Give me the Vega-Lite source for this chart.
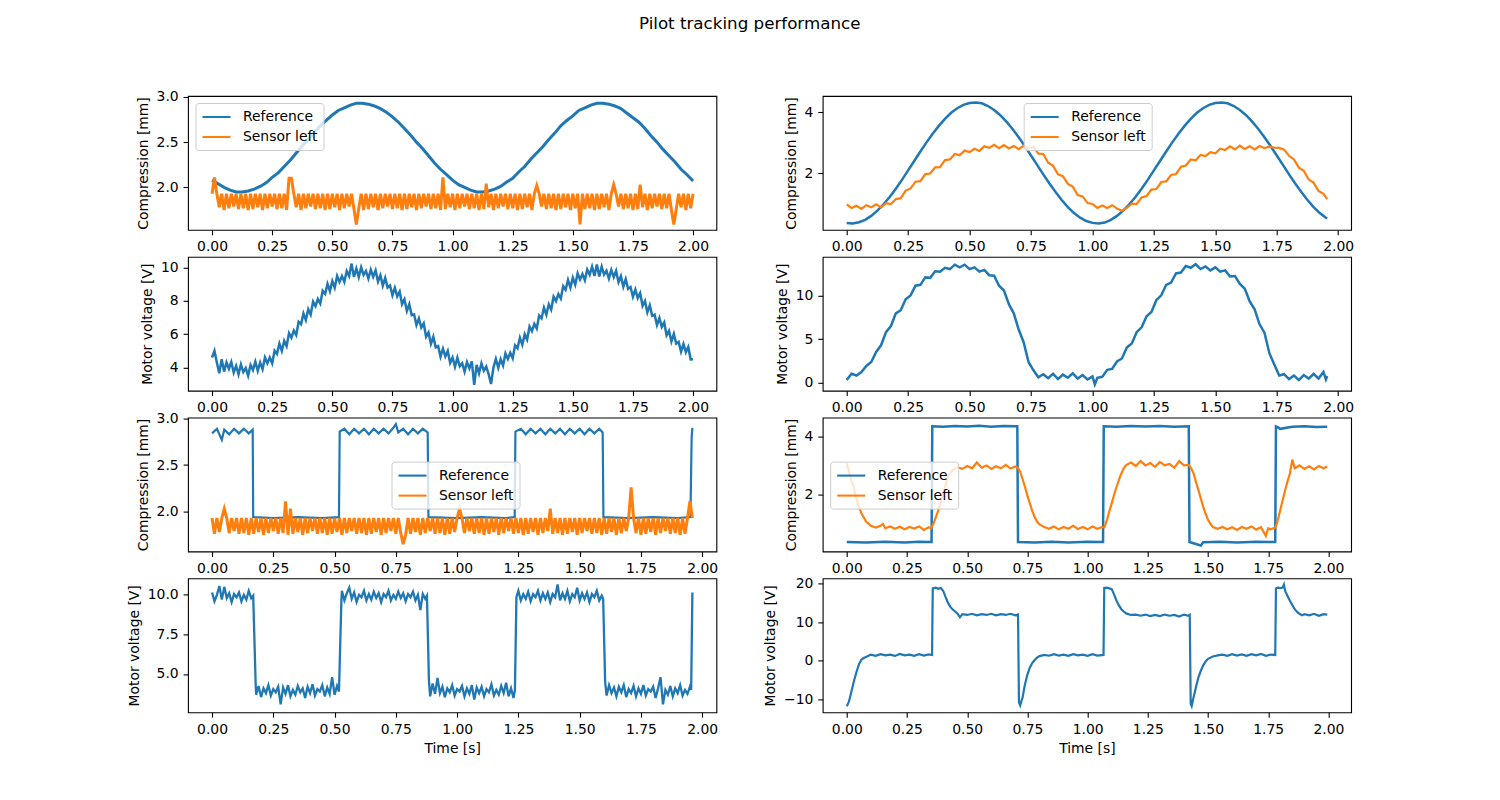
{
  "$schema": "https://vega.github.io/schema/vega-lite/v6.json",
  "title": {"text": "Pilot tracking performance", "anchor": "middle", "offset": 57, "dx": 9},
  "padding": {"left": 127, "top": 15, "right": 10, "bottom": 10},
  "columns": 2,
  "spacing": {"row": 26.8, "column": 105.7},
  "bounds": "flush",
  "resolve": {"scale": {"x": "independent", "y": "independent", "color": "independent"}},
  "concat": [
    {
      "width": 528.4, "height": 133.9,
      "encoding": {
        "x": {"field": "t", "type": "quantitative", "scale": {"domain": [-0.1, 2.097], "nice": false, "zero": false}, "axis": {"values": [0, 0.25, 0.5, 0.75, 1, 1.25, 1.5, 1.75, 2], "format": ".2f", "title": null}},
        "y": {"field": "v", "type": "quantitative", "scale": {"domain": [1.53, 3.01], "nice": false, "zero": false}, "axis": {"values": [2, 2.5, 3], "format": ".1f", "title": "Compression [mm]"}}
      },
      "layer": [
        {
          "data": {"values": [
            {"t":0,"v":2.08},{"t":0.025,"v":2.04},{"t":0.05,"v":2.0},{"t":0.075,"v":1.97},{"t":0.1,"v":1.95},{"t":0.125,"v":1.95},{"t":0.15,"v":1.96},{"t":0.175,"v":1.98},{"t":0.2,"v":2.01},{"t":0.225,"v":2.05},{"t":0.25,"v":2.11},{"t":0.275,"v":2.16},{"t":0.3,"v":2.23},{"t":0.325,"v":2.3},{"t":0.35,"v":2.38},{"t":0.375,"v":2.46},{"t":0.4,"v":2.53},{"t":0.425,"v":2.61},{"t":0.45,"v":2.68},{"t":0.475,"v":2.74},{"t":0.5,"v":2.8},{"t":0.525,"v":2.85},{"t":0.55,"v":2.88},{"t":0.575,"v":2.91},{"t":0.6,"v":2.93},{"t":0.625,"v":2.93},{"t":0.65,"v":2.92},{"t":0.675,"v":2.9},{"t":0.7,"v":2.87},{"t":0.725,"v":2.83},{"t":0.75,"v":2.78},{"t":0.775,"v":2.72},{"t":0.8,"v":2.65},{"t":0.825,"v":2.58},{"t":0.85,"v":2.5},{"t":0.875,"v":2.43},{"t":0.9,"v":2.35},{"t":0.925,"v":2.27},{"t":0.95,"v":2.2},{"t":0.975,"v":2.14},{"t":1.0,"v":2.08},
            {"t":1.025,"v":2.03},{"t":1.05,"v":2.0},{"t":1.075,"v":1.97},{"t":1.1,"v":1.95},{"t":1.125,"v":1.95},{"t":1.15,"v":1.96},{"t":1.175,"v":1.98},{"t":1.2,"v":2.01},{"t":1.225,"v":2.06},{"t":1.25,"v":2.1},{"t":1.275,"v":2.17},{"t":1.3,"v":2.23},{"t":1.325,"v":2.31},{"t":1.35,"v":2.38},{"t":1.375,"v":2.45},{"t":1.4,"v":2.53},{"t":1.425,"v":2.6},{"t":1.45,"v":2.68},{"t":1.475,"v":2.74},{"t":1.5,"v":2.79},{"t":1.525,"v":2.85},{"t":1.55,"v":2.88},{"t":1.575,"v":2.91},{"t":1.6,"v":2.93},{"t":1.625,"v":2.93},{"t":1.65,"v":2.92},{"t":1.675,"v":2.9},{"t":1.7,"v":2.87},{"t":1.725,"v":2.82},{"t":1.75,"v":2.77},{"t":1.775,"v":2.72},{"t":1.8,"v":2.65},{"t":1.825,"v":2.57},{"t":1.85,"v":2.5},{"t":1.875,"v":2.42},{"t":1.9,"v":2.35},{"t":1.925,"v":2.28},{"t":1.95,"v":2.2},{"t":1.975,"v":2.14},{"t":2.0,"v":2.07}
          ]},
          "mark": {"type": "line", "strokeWidth": 3, "clip": true},
          "encoding": {"color": {"datum": "Reference", "type": "nominal", "scale": {"domain": ["Reference", "Sensor left"], "range": ["#1f77b4", "#ff7f0e"]}, "legend": {"orient": "none", "legendX": 7.5, "legendY": 7, "title": null}}}
        },
        {
          "data": {"values": [
            {"t":0,"v":1.93},{"t":0.01,"v":2.11},{"t":0.02,"v":1.93},{"t":0.03,"v":1.78},{"t":0.04,"v":1.93},{"t":0.05,"v":1.75},{"t":0.06,"v":1.93},{"t":0.07,"v":1.77},{"t":0.08,"v":1.93},{"t":0.09,"v":1.79},
            {"t":0.1,"v":1.93},{"t":0.11,"v":1.76},{"t":0.12,"v":1.93},{"t":0.13,"v":1.77},{"t":0.14,"v":1.93},{"t":0.15,"v":1.75},{"t":0.16,"v":1.93},{"t":0.17,"v":1.76},{"t":0.18,"v":1.93},{"t":0.19,"v":1.78},
            {"t":0.2,"v":1.93},{"t":0.21,"v":1.75},{"t":0.22,"v":1.93},{"t":0.23,"v":1.77},{"t":0.24,"v":1.93},{"t":0.25,"v":1.79},{"t":0.26,"v":1.93},{"t":0.27,"v":1.76},{"t":0.28,"v":1.93},{"t":0.29,"v":1.77},
            {"t":0.3,"v":1.93},{"t":0.31,"v":1.75},{"t":0.32,"v":2.1},{"t":0.33,"v":2.1},{"t":0.34,"v":1.93},{"t":0.35,"v":1.78},{"t":0.36,"v":1.93},{"t":0.37,"v":1.75},{"t":0.38,"v":1.93},{"t":0.39,"v":1.77},
            {"t":0.4,"v":1.93},{"t":0.41,"v":1.79},{"t":0.42,"v":1.93},{"t":0.43,"v":1.76},{"t":0.44,"v":1.93},{"t":0.45,"v":1.77},{"t":0.46,"v":1.93},{"t":0.47,"v":1.75},{"t":0.48,"v":1.93},{"t":0.49,"v":1.76},
            {"t":0.5,"v":1.93},{"t":0.51,"v":1.78},{"t":0.52,"v":1.93},{"t":0.53,"v":1.75},{"t":0.54,"v":1.93},{"t":0.55,"v":1.77},{"t":0.56,"v":1.93},{"t":0.57,"v":1.79},{"t":0.58,"v":1.93},{"t":0.59,"v":1.76},
            {"t":0.6,"v":1.59},{"t":0.61,"v":1.77},{"t":0.62,"v":1.93},{"t":0.63,"v":1.75},{"t":0.64,"v":1.93},{"t":0.65,"v":1.76},{"t":0.66,"v":1.93},{"t":0.67,"v":1.78},{"t":0.68,"v":1.93},{"t":0.69,"v":1.75},
            {"t":0.7,"v":1.93},{"t":0.71,"v":1.77},{"t":0.72,"v":1.93},{"t":0.73,"v":1.79},{"t":0.74,"v":1.93},{"t":0.75,"v":1.76},{"t":0.76,"v":1.93},{"t":0.77,"v":1.77},{"t":0.78,"v":1.93},{"t":0.79,"v":1.75},
            {"t":0.8,"v":1.93},{"t":0.81,"v":1.76},{"t":0.82,"v":1.93},{"t":0.83,"v":1.78},{"t":0.84,"v":1.93},{"t":0.85,"v":1.75},{"t":0.86,"v":1.93},{"t":0.87,"v":1.77},{"t":0.88,"v":1.93},{"t":0.89,"v":1.79},
            {"t":0.9,"v":1.93},{"t":0.91,"v":1.76},{"t":0.92,"v":1.93},{"t":0.93,"v":1.77},{"t":0.94,"v":1.93},{"t":0.95,"v":1.75},{"t":0.96,"v":2.11},{"t":0.97,"v":1.76},{"t":0.98,"v":1.93},{"t":0.99,"v":1.78},
            {"t":1.0,"v":1.93},{"t":1.01,"v":1.75},{"t":1.02,"v":1.93},{"t":1.03,"v":1.77},{"t":1.04,"v":1.93},{"t":1.05,"v":1.79},{"t":1.06,"v":1.93},{"t":1.07,"v":1.76},{"t":1.08,"v":1.93},{"t":1.09,"v":1.77},
            {"t":1.1,"v":1.93},{"t":1.11,"v":1.75},{"t":1.12,"v":1.93},{"t":1.13,"v":1.76},{"t":1.14,"v":2.04},{"t":1.15,"v":1.78},{"t":1.16,"v":1.93},{"t":1.17,"v":1.75},{"t":1.18,"v":1.93},{"t":1.19,"v":1.77},
            {"t":1.2,"v":1.93},{"t":1.21,"v":1.79},{"t":1.22,"v":1.93},{"t":1.23,"v":1.76},{"t":1.24,"v":1.93},{"t":1.25,"v":1.77},{"t":1.26,"v":1.93},{"t":1.27,"v":1.75},{"t":1.28,"v":1.93},{"t":1.29,"v":1.76},
            {"t":1.3,"v":1.93},{"t":1.31,"v":1.78},{"t":1.32,"v":1.93},{"t":1.33,"v":1.75},{"t":1.34,"v":1.93},{"t":1.35,"v":2.02},{"t":1.36,"v":1.93},{"t":1.37,"v":1.79},{"t":1.38,"v":1.93},{"t":1.39,"v":1.76},
            {"t":1.4,"v":1.93},{"t":1.41,"v":1.77},{"t":1.42,"v":1.93},{"t":1.43,"v":1.75},{"t":1.44,"v":1.93},{"t":1.45,"v":1.76},{"t":1.46,"v":1.93},{"t":1.47,"v":1.78},{"t":1.48,"v":1.93},{"t":1.49,"v":1.75},
            {"t":1.5,"v":1.93},{"t":1.51,"v":1.77},{"t":1.52,"v":1.93},{"t":1.53,"v":1.59},{"t":1.54,"v":1.93},{"t":1.55,"v":1.76},{"t":1.56,"v":1.93},{"t":1.57,"v":1.77},{"t":1.58,"v":1.93},{"t":1.59,"v":1.75},
            {"t":1.6,"v":1.93},{"t":1.61,"v":1.76},{"t":1.62,"v":1.93},{"t":1.63,"v":1.78},{"t":1.64,"v":1.93},{"t":1.65,"v":1.75},{"t":1.66,"v":1.93},{"t":1.67,"v":2.03},{"t":1.68,"v":1.93},{"t":1.69,"v":1.79},
            {"t":1.7,"v":1.93},{"t":1.71,"v":1.76},{"t":1.72,"v":1.93},{"t":1.73,"v":1.77},{"t":1.74,"v":1.93},{"t":1.75,"v":1.75},{"t":1.76,"v":1.93},{"t":1.77,"v":1.76},{"t":1.78,"v":2.03},{"t":1.79,"v":1.78},
            {"t":1.8,"v":1.93},{"t":1.81,"v":1.75},{"t":1.82,"v":1.93},{"t":1.83,"v":1.77},{"t":1.84,"v":1.93},{"t":1.85,"v":1.79},{"t":1.86,"v":1.93},{"t":1.87,"v":1.76},{"t":1.88,"v":1.93},{"t":1.89,"v":1.77},
            {"t":1.9,"v":1.93},{"t":1.91,"v":1.75},{"t":1.92,"v":1.59},{"t":1.93,"v":1.76},{"t":1.94,"v":1.93},{"t":1.95,"v":1.78},{"t":1.96,"v":1.93},{"t":1.97,"v":1.75},{"t":1.98,"v":1.93},{"t":1.99,"v":1.77},{"t":2.0,"v":1.93}
          ]},
          "mark": {"type": "line", "strokeWidth": 3, "clip": true},
          "encoding": {"color": {"datum": "Sensor left", "type": "nominal"}}
        }
      ]
    },
    {
      "width": 528.4, "height": 133.9,
      "encoding": {
        "x": {"field": "t", "type": "quantitative", "scale": {"domain": [-0.0975, 2.0525], "nice": false, "zero": false}, "axis": {"values": [0, 0.25, 0.5, 0.75, 1, 1.25, 1.5, 1.75, 2], "format": ".2f", "title": null}},
        "y": {"field": "v", "type": "quantitative", "scale": {"domain": [0.14, 4.53], "nice": false, "zero": false}, "axis": {"values": [2, 4], "format": "d", "title": "Compression [mm]"}}
      },
      "layer": [
        {
          "data": {"values": [
            {"t":0,"v":0.37},{"t":0.025,"v":0.35},{"t":0.05,"v":0.39},{"t":0.075,"v":0.47},{"t":0.1,"v":0.6},{"t":0.125,"v":0.77},{"t":0.15,"v":0.98},{"t":0.175,"v":1.22},{"t":0.2,"v":1.49},{"t":0.225,"v":1.78},{"t":0.25,"v":2.09},{"t":0.275,"v":2.4},{"t":0.3,"v":2.71},{"t":0.325,"v":3.01},{"t":0.35,"v":3.29},{"t":0.375,"v":3.55},{"t":0.4,"v":3.78},{"t":0.425,"v":3.98},{"t":0.45,"v":4.13},{"t":0.475,"v":4.24},{"t":0.5,"v":4.3},{"t":0.525,"v":4.32},{"t":0.55,"v":4.29},{"t":0.575,"v":4.2},{"t":0.6,"v":4.07},{"t":0.625,"v":3.9},{"t":0.65,"v":3.69},{"t":0.675,"v":3.45},{"t":0.7,"v":3.18},{"t":0.725,"v":2.89},{"t":0.75,"v":2.58},{"t":0.775,"v":2.27},{"t":0.8,"v":1.96},{"t":0.825,"v":1.66},{"t":0.85,"v":1.38},{"t":0.875,"v":1.12},{"t":0.9,"v":0.89},{"t":0.925,"v":0.69},{"t":0.95,"v":0.54},{"t":0.975,"v":0.43},{"t":1.0,"v":0.37},
            {"t":1.025,"v":0.35},{"t":1.05,"v":0.38},{"t":1.075,"v":0.47},{"t":1.1,"v":0.6},{"t":1.125,"v":0.77},{"t":1.15,"v":0.98},{"t":1.175,"v":1.22},{"t":1.2,"v":1.49},{"t":1.225,"v":1.78},{"t":1.25,"v":2.09},{"t":1.275,"v":2.4},{"t":1.3,"v":2.71},{"t":1.325,"v":3.01},{"t":1.35,"v":3.29},{"t":1.375,"v":3.55},{"t":1.4,"v":3.78},{"t":1.425,"v":3.98},{"t":1.45,"v":4.13},{"t":1.475,"v":4.24},{"t":1.5,"v":4.3},{"t":1.525,"v":4.32},{"t":1.55,"v":4.29},{"t":1.575,"v":4.2},{"t":1.6,"v":4.07},{"t":1.625,"v":3.9},{"t":1.65,"v":3.69},{"t":1.675,"v":3.45},{"t":1.7,"v":3.18},{"t":1.725,"v":2.89},{"t":1.75,"v":2.58},{"t":1.775,"v":2.27},{"t":1.8,"v":1.96},{"t":1.825,"v":1.66},{"t":1.85,"v":1.38},{"t":1.875,"v":1.12},{"t":1.9,"v":0.89},{"t":1.925,"v":0.69},{"t":1.95,"v":0.54},{"t":1.955,"v":0.51}
          ]},
          "mark": {"type": "line", "strokeWidth": 2.5, "clip": true},
          "encoding": {"color": {"datum": "Reference", "type": "nominal", "scale": {"domain": ["Reference", "Sensor left"], "range": ["#1f77b4", "#ff7f0e"]}, "legend": {"orient": "none", "legendX": 201, "legendY": 7, "title": null}}}
        },
        {
          "data": {"values": [
            {"t":0,"v":0.98},{"t":0.02,"v":0.86},{"t":0.04,"v":0.93},{"t":0.06,"v":0.83},{"t":0.08,"v":0.95},{"t":0.1,"v":0.88},{"t":0.12,"v":0.98},{"t":0.14,"v":0.88},{"t":0.16,"v":1.02},{"t":0.18,"v":0.99},
            {"t":0.2,"v":1.15},{"t":0.22,"v":1.18},{"t":0.24,"v":1.43},{"t":0.26,"v":1.5},{"t":0.28,"v":1.72},{"t":0.3,"v":1.74},{"t":0.32,"v":1.97},{"t":0.34,"v":1.99},{"t":0.36,"v":2.19},{"t":0.38,"v":2.2},
            {"t":0.4,"v":2.43},{"t":0.42,"v":2.45},{"t":0.44,"v":2.63},{"t":0.46,"v":2.59},{"t":0.48,"v":2.74},{"t":0.5,"v":2.69},{"t":0.52,"v":2.8},{"t":0.54,"v":2.73},{"t":0.56,"v":2.88},{"t":0.58,"v":2.83},
            {"t":0.6,"v":2.93},{"t":0.62,"v":2.82},{"t":0.64,"v":2.92},{"t":0.66,"v":2.81},{"t":0.68,"v":2.89},{"t":0.7,"v":2.79},{"t":0.72,"v":2.9},{"t":0.74,"v":2.82},{"t":0.76,"v":2.86},{"t":0.78,"v":2.64},
            {"t":0.8,"v":2.63},{"t":0.82,"v":2.34},{"t":0.84,"v":2.24},{"t":0.86,"v":1.96},{"t":0.88,"v":1.9},{"t":0.9,"v":1.65},{"t":0.92,"v":1.56},{"t":0.94,"v":1.28},{"t":0.96,"v":1.24},{"t":0.98,"v":1.02},
            {"t":1.0,"v":0.99},{"t":1.02,"v":0.86},{"t":1.04,"v":0.94},{"t":1.06,"v":0.86},{"t":1.08,"v":0.95},{"t":1.1,"v":0.84},{"t":1.12,"v":0.77},{"t":1.14,"v":0.86},{"t":1.16,"v":1.0},{"t":1.18,"v":0.99},
            {"t":1.2,"v":1.2},{"t":1.22,"v":1.25},{"t":1.24,"v":1.46},{"t":1.26,"v":1.48},{"t":1.28,"v":1.71},{"t":1.3,"v":1.73},{"t":1.32,"v":1.94},{"t":1.34,"v":1.97},{"t":1.36,"v":2.21},{"t":1.38,"v":2.25},
            {"t":1.4,"v":2.45},{"t":1.42,"v":2.42},{"t":1.44,"v":2.6},{"t":1.46,"v":2.56},{"t":1.48,"v":2.69},{"t":1.5,"v":2.65},{"t":1.52,"v":2.8},{"t":1.54,"v":2.76},{"t":1.56,"v":2.88},{"t":1.58,"v":2.78},
            {"t":1.6,"v":2.9},{"t":1.62,"v":2.79},{"t":1.64,"v":2.88},{"t":1.66,"v":2.78},{"t":1.68,"v":2.89},{"t":1.7,"v":2.82},{"t":1.72,"v":2.87},{"t":1.74,"v":2.84},{"t":1.76,"v":2.83},{"t":1.78,"v":2.77},
            {"t":1.8,"v":2.57},{"t":1.82,"v":2.45},{"t":1.84,"v":2.18},{"t":1.86,"v":2.08},{"t":1.88,"v":1.79},{"t":1.9,"v":1.69},{"t":1.92,"v":1.42},{"t":1.94,"v":1.32},{"t":1.955,"v":1.15}
          ]},
          "mark": {"type": "line", "strokeWidth": 2.2, "clip": true},
          "encoding": {"color": {"datum": "Sensor left", "type": "nominal"}}
        }
      ]
    },
    {
      "width": 528.4, "height": 133.9,
      "data": {"values": [
        {"t":0,"v":4.6},{"t":0.01,"v":5.0},{"t":0.02,"v":4.3},{"t":0.03,"v":3.65},{"t":0.04,"v":4.5},{"t":0.05,"v":3.75},{"t":0.06,"v":4.31},{"t":0.07,"v":3.92},{"t":0.08,"v":4.33},{"t":0.09,"v":3.69},
        {"t":0.1,"v":4.1},{"t":0.11,"v":3.59},{"t":0.12,"v":4.18},{"t":0.13,"v":3.72},{"t":0.14,"v":3.96},{"t":0.15,"v":3.5},{"t":0.16,"v":4.15},{"t":0.17,"v":3.85},{"t":0.18,"v":4.35},{"t":0.19,"v":3.8},
        {"t":0.2,"v":4.3},{"t":0.21,"v":3.9},{"t":0.22,"v":4.6},{"t":0.23,"v":4.25},{"t":0.24,"v":4.6},{"t":0.25,"v":4.25},{"t":0.26,"v":5.01},{"t":0.27,"v":4.82},{"t":0.28,"v":5.43},{"t":0.29,"v":4.99},
        {"t":0.3,"v":5.6},{"t":0.31,"v":5.28},{"t":0.32,"v":6.06},{"t":0.33,"v":5.79},{"t":0.34,"v":6.22},{"t":0.35,"v":5.95},{"t":0.36,"v":6.75},{"t":0.37,"v":6.6},{"t":0.38,"v":7.25},{"t":0.39,"v":6.85},
        {"t":0.4,"v":7.5},{"t":0.41,"v":7.18},{"t":0.42,"v":7.96},{"t":0.43,"v":7.69},{"t":0.44,"v":8.12},{"t":0.45,"v":7.85},{"t":0.46,"v":8.61},{"t":0.47,"v":8.42},{"t":0.48,"v":9.03},{"t":0.49,"v":8.59},
        {"t":0.5,"v":9.2},{"t":0.51,"v":8.8},{"t":0.52,"v":9.5},{"t":0.53,"v":9.15},{"t":0.54,"v":9.5},{"t":0.55,"v":9.15},{"t":0.56,"v":9.8},{"t":0.57,"v":9.5},{"t":0.58,"v":10.25},{"t":0.59,"v":9.45},
        {"t":0.6,"v":9.95},{"t":0.61,"v":9.44},{"t":0.62,"v":10.03},{"t":0.63,"v":9.57},{"t":0.64,"v":9.81},{"t":0.65,"v":9.35},{"t":0.66,"v":9.88},{"t":0.67,"v":9.46},{"t":0.68,"v":9.84},{"t":0.69,"v":9.17},
        {"t":0.7,"v":9.55},{"t":0.71,"v":8.92},{"t":0.72,"v":9.39},{"t":0.73,"v":8.81},{"t":0.74,"v":8.93},{"t":0.75,"v":8.35},{"t":0.76,"v":8.79},{"t":0.77,"v":8.28},{"t":0.78,"v":8.57},{"t":0.79,"v":7.81},
        {"t":0.8,"v":8.1},{"t":0.81,"v":7.4},{"t":0.82,"v":7.8},{"t":0.83,"v":7.15},{"t":0.84,"v":7.2},{"t":0.85,"v":6.55},{"t":0.86,"v":6.95},{"t":0.87,"v":6.4},{"t":0.88,"v":6.65},{"t":0.89,"v":5.85},
        {"t":0.9,"v":6.1},{"t":0.91,"v":5.42},{"t":0.92,"v":5.84},{"t":0.93,"v":5.21},{"t":0.94,"v":5.28},{"t":0.95,"v":4.65},{"t":0.96,"v":5.13},{"t":0.97,"v":4.66},{"t":0.98,"v":4.99},{"t":0.99,"v":4.27},
        {"t":1.0,"v":4.6},{"t":1.01,"v":4.04},{"t":1.02,"v":4.58},{"t":1.03,"v":4.07},{"t":1.04,"v":4.26},{"t":1.05,"v":3.75},{"t":1.06,"v":4.32},{"t":1.07,"v":3.94},{"t":1.08,"v":4.36},{"t":1.09,"v":2.95},
        {"t":1.1,"v":4.15},{"t":1.11,"v":3.65},{"t":1.12,"v":4.25},{"t":1.13,"v":3.8},{"t":1.14,"v":4.05},{"t":1.15,"v":3.6},{"t":1.16,"v":3.0},{"t":1.17,"v":3.99},{"t":1.18,"v":4.51},{"t":1.19,"v":3.98},
        {"t":1.2,"v":4.5},{"t":1.21,"v":4.12},{"t":1.22,"v":4.84},{"t":1.23,"v":4.51},{"t":1.24,"v":4.88},{"t":1.25,"v":4.55},{"t":1.26,"v":5.33},{"t":1.27,"v":5.16},{"t":1.28,"v":5.79},{"t":1.29,"v":5.37},
        {"t":1.3,"v":6.0},{"t":1.31,"v":5.68},{"t":1.32,"v":6.46},{"t":1.33,"v":6.19},{"t":1.34,"v":6.62},{"t":1.35,"v":6.35},{"t":1.36,"v":7.13},{"t":1.37,"v":6.96},{"t":1.38,"v":7.59},{"t":1.39,"v":7.17},
        {"t":1.4,"v":7.8},{"t":1.41,"v":7.48},{"t":1.42,"v":8.26},{"t":1.43,"v":7.99},{"t":1.44,"v":8.42},{"t":1.45,"v":8.15},{"t":1.46,"v":8.89},{"t":1.47,"v":8.68},{"t":1.48,"v":9.27},{"t":1.49,"v":8.81},
        {"t":1.5,"v":9.4},{"t":1.51,"v":8.98},{"t":1.52,"v":9.66},{"t":1.53,"v":9.29},{"t":1.54,"v":9.62},{"t":1.55,"v":9.25},{"t":1.56,"v":9.89},{"t":1.57,"v":9.58},{"t":1.58,"v":10.07},{"t":1.59,"v":9.51},
        {"t":1.6,"v":10.2},{"t":1.61,"v":9.48},{"t":1.62,"v":10.06},{"t":1.63,"v":9.59},{"t":1.64,"v":9.82},{"t":1.65,"v":9.35},{"t":1.66,"v":9.87},{"t":1.67,"v":9.44},{"t":1.68,"v":9.81},{"t":1.69,"v":9.13},
        {"t":1.7,"v":9.5},{"t":1.71,"v":8.86},{"t":1.72,"v":9.32},{"t":1.73,"v":8.73},{"t":1.74,"v":8.84},{"t":1.75,"v":8.25},{"t":1.76,"v":8.69},{"t":1.77,"v":8.18},{"t":1.78,"v":8.47},{"t":1.79,"v":7.71},
        {"t":1.8,"v":8.0},{"t":1.81,"v":7.32},{"t":1.82,"v":7.74},{"t":1.83,"v":7.11},{"t":1.84,"v":7.18},{"t":1.85,"v":6.55},{"t":1.86,"v":6.97},{"t":1.87,"v":6.44},{"t":1.88,"v":6.71},{"t":1.89,"v":5.93},
        {"t":1.9,"v":6.2},{"t":1.91,"v":5.56},{"t":1.92,"v":6.02},{"t":1.93,"v":5.43},{"t":1.94,"v":5.54},{"t":1.95,"v":4.95},{"t":1.96,"v":5.41},{"t":1.97,"v":4.92},{"t":1.98,"v":5.23},{"t":1.99,"v":4.49},{"t":2.0,"v":4.5}
      ]},
      "mark": {"type": "line", "color": "#1f77b4", "strokeWidth": 2.5, "clip": true},
      "encoding": {
        "x": {"field": "t", "type": "quantitative", "scale": {"domain": [-0.1, 2.097], "nice": false, "zero": false}, "axis": {"values": [0, 0.25, 0.5, 0.75, 1, 1.25, 1.5, 1.75, 2], "format": ".2f", "title": null}},
        "y": {"field": "v", "type": "quantitative", "scale": {"domain": [2.6, 10.66], "nice": false, "zero": false}, "axis": {"values": [4, 6, 8, 10], "format": "d", "title": "Motor voltage [V]"}}
      }
    },
    {
      "width": 528.4, "height": 133.9,
      "data": {"values": [
        {"t":0,"v":0.35},{"t":0.02,"v":1.05},{"t":0.04,"v":0.85},{"t":0.06,"v":1.25},{"t":0.08,"v":1.95},{"t":0.1,"v":2.4},{"t":0.12,"v":3.55},{"t":0.14,"v":4.3},{"t":0.16,"v":5.8},{"t":0.18,"v":6.5},
        {"t":0.2,"v":7.95},{"t":0.22,"v":8.3},{"t":0.24,"v":9.55},{"t":0.26,"v":10.0},{"t":0.28,"v":11.1},{"t":0.3,"v":11.2},{"t":0.32,"v":12.05},{"t":0.34,"v":12.0},{"t":0.36,"v":12.75},{"t":0.38,"v":12.7},
        {"t":0.4,"v":13.15},{"t":0.42,"v":13.0},{"t":0.44,"v":13.5},{"t":0.46,"v":13.2},{"t":0.48,"v":13.5},{"t":0.5,"v":13.0},{"t":0.52,"v":13.2},{"t":0.54,"v":12.7},{"t":0.56,"v":12.9},{"t":0.58,"v":12.3},
        {"t":0.6,"v":12.25},{"t":0.62,"v":11.1},{"t":0.64,"v":10.55},{"t":0.66,"v":9.0},{"t":0.68,"v":7.95},{"t":0.7,"v":6.1},{"t":0.72,"v":4.65},{"t":0.74,"v":2.4},{"t":0.76,"v":1.45},{"t":0.78,"v":0.65},
        {"t":0.8,"v":1.0},{"t":0.82,"v":0.55},{"t":0.84,"v":1.05},{"t":0.86,"v":0.45},{"t":0.88,"v":0.95},{"t":0.9,"v":0.6},{"t":0.92,"v":1.1},{"t":0.94,"v":0.5},{"t":0.96,"v":0.9},{"t":0.98,"v":0.4},
        {"t":1.0,"v":0.75},{"t":1.01,"v":-0.15},{"t":1.02,"v":0.6},{"t":1.04,"v":0.7},{"t":1.06,"v":1.5},{"t":1.08,"v":1.6},{"t":1.1,"v":2.45},{"t":1.12,"v":2.8},{"t":1.14,"v":4.05},{"t":1.16,"v":4.5},{"t":1.18,"v":5.8},
        {"t":1.2,"v":6.35},{"t":1.22,"v":7.6},{"t":1.24,"v":8.1},{"t":1.26,"v":9.45},{"t":1.28,"v":10.0},{"t":1.3,"v":11.2},{"t":1.32,"v":11.45},{"t":1.34,"v":12.5},{"t":1.36,"v":12.6},{"t":1.38,"v":13.35},
        {"t":1.4,"v":13.15},{"t":1.42,"v":13.55},{"t":1.44,"v":13.0},{"t":1.46,"v":13.3},{"t":1.48,"v":12.85},{"t":1.5,"v":13.2},{"t":1.52,"v":12.7},{"t":1.54,"v":12.85},{"t":1.56,"v":12.15},{"t":1.58,"v":12.2},
        {"t":1.6,"v":11.3},{"t":1.62,"v":10.75},{"t":1.64,"v":9.3},{"t":1.66,"v":8.4},{"t":1.68,"v":6.7},{"t":1.7,"v":5.75},{"t":1.72,"v":3.4},{"t":1.74,"v":2.1},{"t":1.76,"v":0.85},{"t":1.78,"v":1.0},
        {"t":1.8,"v":0.45},{"t":1.82,"v":0.85},{"t":1.84,"v":0.35},{"t":1.86,"v":0.9},{"t":1.88,"v":0.5},{"t":1.9,"v":1.05},{"t":1.92,"v":0.5},{"t":1.94,"v":1.25},{"t":1.95,"v":0.4},{"t":1.955,"v":0.8}
      ]},
      "mark": {"type": "line", "color": "#1f77b4", "strokeWidth": 2.5, "clip": true},
      "encoding": {
        "x": {"field": "t", "type": "quantitative", "scale": {"domain": [-0.0975, 2.0525], "nice": false, "zero": false}, "axis": {"values": [0, 0.25, 0.5, 0.75, 1, 1.25, 1.5, 1.75, 2], "format": ".2f", "title": null}},
        "y": {"field": "v", "type": "quantitative", "scale": {"domain": [-0.88, 14.4], "nice": false, "zero": false}, "axis": {"values": [0, 5, 10], "format": "d", "title": "Motor voltage [V]"}}
      }
    },
    {
      "width": 528.4, "height": 133.9,
      "encoding": {
        "x": {"field": "t", "type": "quantitative", "scale": {"domain": [-0.098, 2.058], "nice": false, "zero": false}, "axis": {"values": [0, 0.25, 0.5, 0.75, 1, 1.25, 1.5, 1.75, 2], "format": ".2f", "title": null}},
        "y": {"field": "v", "type": "quantitative", "scale": {"domain": [1.57, 3.01], "nice": false, "zero": false}, "axis": {"values": [2, 2.5, 3], "format": ".1f", "title": "Compression [mm]"}}
      },
      "layer": [
        {
          "data": {"values": [
            {"t":0,"v":2.84},{"t":0.02,"v":2.89},{"t":0.04,"v":2.77},{"t":0.05,"v":2.88},{"t":0.07,"v":2.83},{"t":0.09,"v":2.89},{"t":0.11,"v":2.84},{"t":0.13,"v":2.89},{"t":0.15,"v":2.84},{"t":0.166,"v":2.88},
            {"t":0.168,"v":1.94},{"t":0.25,"v":1.93},{"t":0.35,"v":1.94},{"t":0.45,"v":1.93},{"t":0.518,"v":1.94},
            {"t":0.521,"v":2.86},{"t":0.54,"v":2.89},{"t":0.56,"v":2.83},{"t":0.58,"v":2.89},{"t":0.6,"v":2.84},{"t":0.62,"v":2.89},{"t":0.64,"v":2.83},{"t":0.66,"v":2.89},{"t":0.68,"v":2.84},{"t":0.7,"v":2.89},{"t":0.72,"v":2.84},{"t":0.74,"v":2.9},{"t":0.75,"v":2.94},{"t":0.76,"v":2.85},{"t":0.78,"v":2.89},{"t":0.8,"v":2.83},{"t":0.82,"v":2.89},{"t":0.84,"v":2.84},{"t":0.86,"v":2.89},{"t":0.88,"v":2.85},
            {"t":0.883,"v":1.94},{"t":1.0,"v":1.93},{"t":1.1,"v":1.94},{"t":1.2,"v":1.93},{"t":1.235,"v":1.94},
            {"t":1.238,"v":2.86},{"t":1.26,"v":2.89},{"t":1.28,"v":2.83},{"t":1.3,"v":2.89},{"t":1.32,"v":2.84},{"t":1.34,"v":2.89},{"t":1.36,"v":2.83},{"t":1.38,"v":2.89},{"t":1.4,"v":2.84},{"t":1.42,"v":2.89},{"t":1.44,"v":2.83},{"t":1.46,"v":2.89},{"t":1.48,"v":2.84},{"t":1.5,"v":2.89},{"t":1.52,"v":2.83},{"t":1.54,"v":2.89},{"t":1.56,"v":2.84},{"t":1.58,"v":2.89},{"t":1.594,"v":2.85},
            {"t":1.597,"v":1.94},{"t":1.7,"v":1.93},{"t":1.8,"v":1.94},{"t":1.9,"v":1.93},{"t":1.952,"v":1.94},{"t":1.957,"v":2.8},{"t":1.96,"v":2.9}
          ]},
          "mark": {"type": "line", "strokeWidth": 2.2, "clip": true},
          "encoding": {"color": {"datum": "Reference", "type": "nominal", "scale": {"domain": ["Reference", "Sensor left"], "range": ["#1f77b4", "#ff7f0e"]}, "legend": {"orient": "none", "legendX": 203.5, "legendY": 44, "title": null}}}
        },
        {
          "data": {"values": [
            {"t":0,"v":1.93},{"t":0.01,"v":1.76},{"t":0.02,"v":1.93},{"t":0.03,"v":1.78},{"t":0.04,"v":1.93},{"t":0.05,"v":2.03},{"t":0.06,"v":1.93},{"t":0.07,"v":1.77},{"t":0.08,"v":1.93},{"t":0.09,"v":1.79},
            {"t":0.1,"v":1.93},{"t":0.11,"v":1.76},{"t":0.12,"v":1.93},{"t":0.13,"v":1.77},{"t":0.14,"v":1.93},{"t":0.15,"v":1.75},{"t":0.16,"v":1.93},{"t":0.17,"v":1.76},{"t":0.18,"v":1.93},{"t":0.19,"v":1.78},
            {"t":0.2,"v":1.93},{"t":0.21,"v":1.75},{"t":0.22,"v":1.93},{"t":0.23,"v":1.77},{"t":0.24,"v":1.93},{"t":0.25,"v":1.79},{"t":0.26,"v":1.93},{"t":0.27,"v":1.76},{"t":0.28,"v":1.93},{"t":0.29,"v":1.77},
            {"t":0.3,"v":2.11},{"t":0.31,"v":1.75},{"t":0.32,"v":2.03},{"t":0.33,"v":1.76},{"t":0.34,"v":1.93},{"t":0.35,"v":1.78},{"t":0.36,"v":1.93},{"t":0.37,"v":1.75},{"t":0.38,"v":1.93},{"t":0.39,"v":1.77},
            {"t":0.4,"v":1.93},{"t":0.41,"v":1.79},{"t":0.42,"v":1.93},{"t":0.43,"v":1.76},{"t":0.44,"v":1.93},{"t":0.45,"v":1.77},{"t":0.46,"v":1.93},{"t":0.47,"v":1.75},{"t":0.48,"v":1.93},{"t":0.49,"v":1.76},
            {"t":0.5,"v":1.93},{"t":0.51,"v":1.78},{"t":0.52,"v":1.93},{"t":0.53,"v":1.75},{"t":0.54,"v":1.93},{"t":0.55,"v":1.77},{"t":0.56,"v":1.93},{"t":0.57,"v":1.79},{"t":0.58,"v":1.93},{"t":0.59,"v":1.76},
            {"t":0.6,"v":1.93},{"t":0.61,"v":1.77},{"t":0.62,"v":1.93},{"t":0.63,"v":1.75},{"t":0.64,"v":1.93},{"t":0.65,"v":1.76},{"t":0.66,"v":1.93},{"t":0.67,"v":1.78},{"t":0.68,"v":1.93},{"t":0.69,"v":1.75},
            {"t":0.7,"v":1.93},{"t":0.71,"v":1.77},{"t":0.72,"v":1.93},{"t":0.73,"v":1.79},{"t":0.74,"v":1.93},{"t":0.75,"v":1.76},{"t":0.76,"v":1.93},{"t":0.77,"v":1.77},{"t":0.78,"v":1.65},{"t":0.79,"v":1.75},
            {"t":0.8,"v":1.93},{"t":0.81,"v":1.76},{"t":0.82,"v":1.93},{"t":0.83,"v":1.78},{"t":0.84,"v":1.93},{"t":0.85,"v":1.75},{"t":0.86,"v":1.93},{"t":0.87,"v":1.77},{"t":0.88,"v":1.93},{"t":0.89,"v":1.79},
            {"t":0.9,"v":1.93},{"t":0.91,"v":1.76},{"t":0.92,"v":1.93},{"t":0.93,"v":1.77},{"t":0.94,"v":1.93},{"t":0.95,"v":1.75},{"t":0.96,"v":1.93},{"t":0.97,"v":1.76},{"t":0.98,"v":1.93},{"t":0.99,"v":1.78},
            {"t":1.0,"v":1.93},{"t":1.01,"v":2.03},{"t":1.02,"v":1.93},{"t":1.03,"v":1.77},{"t":1.04,"v":1.93},{"t":1.05,"v":1.79},{"t":1.06,"v":1.93},{"t":1.07,"v":1.76},{"t":1.08,"v":1.93},{"t":1.09,"v":1.77},
            {"t":1.1,"v":1.93},{"t":1.11,"v":1.75},{"t":1.12,"v":1.93},{"t":1.13,"v":1.76},{"t":1.14,"v":1.93},{"t":1.15,"v":1.78},{"t":1.16,"v":1.93},{"t":1.17,"v":1.75},{"t":1.18,"v":1.93},{"t":1.19,"v":1.77},
            {"t":1.2,"v":1.93},{"t":1.21,"v":1.79},{"t":1.22,"v":1.93},{"t":1.23,"v":1.76},{"t":1.24,"v":1.93},{"t":1.25,"v":1.77},{"t":1.26,"v":1.93},{"t":1.27,"v":1.75},{"t":1.28,"v":1.93},{"t":1.29,"v":1.76},
            {"t":1.3,"v":1.93},{"t":1.31,"v":1.78},{"t":1.32,"v":1.93},{"t":1.33,"v":1.75},{"t":1.34,"v":1.93},{"t":1.35,"v":1.77},{"t":1.36,"v":1.93},{"t":1.37,"v":1.79},{"t":1.38,"v":2.03},{"t":1.39,"v":1.76},
            {"t":1.4,"v":1.93},{"t":1.41,"v":1.77},{"t":1.42,"v":1.93},{"t":1.43,"v":1.75},{"t":1.44,"v":1.93},{"t":1.45,"v":1.76},{"t":1.46,"v":1.93},{"t":1.47,"v":1.78},{"t":1.48,"v":1.93},{"t":1.49,"v":1.75},
            {"t":1.5,"v":1.93},{"t":1.51,"v":1.77},{"t":1.52,"v":1.93},{"t":1.53,"v":1.79},{"t":1.54,"v":1.93},{"t":1.55,"v":1.76},{"t":1.56,"v":1.93},{"t":1.57,"v":1.77},{"t":1.58,"v":1.93},{"t":1.59,"v":1.75},
            {"t":1.6,"v":1.93},{"t":1.61,"v":1.76},{"t":1.62,"v":1.93},{"t":1.63,"v":1.78},{"t":1.64,"v":1.93},{"t":1.65,"v":1.75},{"t":1.66,"v":1.93},{"t":1.67,"v":1.77},{"t":1.68,"v":1.93},{"t":1.69,"v":1.79},
            {"t":1.7,"v":1.93},{"t":1.71,"v":2.26},{"t":1.72,"v":1.93},{"t":1.73,"v":1.77},{"t":1.74,"v":1.93},{"t":1.75,"v":1.75},{"t":1.76,"v":1.93},{"t":1.77,"v":1.76},{"t":1.78,"v":1.93},{"t":1.79,"v":1.78},
            {"t":1.8,"v":1.93},{"t":1.81,"v":1.75},{"t":1.82,"v":1.93},{"t":1.83,"v":1.77},{"t":1.84,"v":1.93},{"t":1.85,"v":1.79},{"t":1.86,"v":1.93},{"t":1.87,"v":1.76},{"t":1.88,"v":1.93},{"t":1.89,"v":1.77},
            {"t":1.9,"v":1.93},{"t":1.91,"v":1.75},{"t":1.92,"v":1.93},{"t":1.93,"v":1.76},{"t":1.94,"v":1.93},{"t":1.95,"v":2.11},{"t":1.96,"v":1.93}
          ]},
          "mark": {"type": "line", "strokeWidth": 3, "clip": true},
          "encoding": {"color": {"datum": "Sensor left", "type": "nominal"}}
        }
      ]
    },
    {
      "width": 528.4, "height": 133.9,
      "encoding": {
        "x": {"field": "t", "type": "quantitative", "scale": {"domain": [-0.1, 2.094], "nice": false, "zero": false}, "axis": {"values": [0, 0.25, 0.5, 0.75, 1, 1.25, 1.5, 1.75, 2], "format": ".2f", "title": null}},
        "y": {"field": "v", "type": "quantitative", "scale": {"domain": [0.01, 4.66], "nice": false, "zero": false}, "axis": {"values": [2, 4], "format": "d", "title": "Compression [mm]"}}
      },
      "layer": [
        {
          "data": {"values": [
            {"t":0,"v":0.34},{"t":0.08,"v":0.32},{"t":0.16,"v":0.35},{"t":0.24,"v":0.32},{"t":0.3,"v":0.35},{"t":0.352,"v":0.34},
            {"t":0.355,"v":4.36},{"t":0.4,"v":4.34},{"t":0.45,"v":4.37},{"t":0.5,"v":4.35},{"t":0.55,"v":4.38},{"t":0.6,"v":4.34},{"t":0.65,"v":4.37},{"t":0.708,"v":4.36},
            {"t":0.711,"v":0.34},{"t":0.78,"v":0.32},{"t":0.85,"v":0.35},{"t":0.92,"v":0.32},{"t":1.0,"v":0.35},{"t":1.064,"v":0.34},
            {"t":1.067,"v":4.36},{"t":1.12,"v":4.34},{"t":1.18,"v":4.37},{"t":1.24,"v":4.35},{"t":1.3,"v":4.37},{"t":1.36,"v":4.34},{"t":1.42,"v":4.36},
            {"t":1.423,"v":0.34},{"t":1.47,"v":0.22},{"t":1.48,"v":0.33},{"t":1.55,"v":0.35},{"t":1.62,"v":0.32},{"t":1.7,"v":0.35},{"t":1.779,"v":0.34},
            {"t":1.782,"v":4.35},{"t":1.79,"v":4.32},{"t":1.8,"v":4.27},{"t":1.85,"v":4.34},{"t":1.9,"v":4.36},{"t":1.95,"v":4.33},{"t":1.995,"v":4.34}
          ]},
          "mark": {"type": "line", "strokeWidth": 2.5, "clip": true},
          "encoding": {"color": {"datum": "Reference", "type": "nominal", "scale": {"domain": ["Reference", "Sensor left"], "range": ["#1f77b4", "#ff7f0e"]}, "legend": {"orient": "none", "legendX": 7.5, "legendY": 44, "title": null}}}
        },
        {
          "data": {"values": [
            {"t":0,"v":3.07},{"t":0.01,"v":2.75},{"t":0.02,"v":2.45},{"t":0.03,"v":2.2},{"t":0.04,"v":1.85},{"t":0.05,"v":1.58},{"t":0.06,"v":1.35},{"t":0.07,"v":1.2},{"t":0.08,"v":1.05},{"t":0.09,"v":0.98},
            {"t":0.1,"v":0.9},{"t":0.12,"v":0.84},{"t":0.14,"v":0.9},{"t":0.15,"v":0.97},{"t":0.16,"v":0.82},{"t":0.18,"v":0.88},{"t":0.2,"v":0.8},{"t":0.22,"v":0.87},{"t":0.24,"v":0.78},{"t":0.26,"v":0.86},
            {"t":0.28,"v":0.81},{"t":0.3,"v":0.88},{"t":0.32,"v":0.76},{"t":0.34,"v":0.85},{"t":0.35,"v":0.82},{"t":0.36,"v":0.98},{"t":0.37,"v":1.2},{"t":0.38,"v":1.44},{"t":0.39,"v":1.72},{"t":0.4,"v":2.02},
            {"t":0.41,"v":2.32},{"t":0.42,"v":2.6},{"t":0.43,"v":2.75},{"t":0.44,"v":2.84},{"t":0.46,"v":2.93},{"t":0.48,"v":2.88},{"t":0.5,"v":2.98},{"t":0.52,"v":2.9},{"t":0.54,"v":3.1},{"t":0.56,"v":2.92},
            {"t":0.58,"v":3.0},{"t":0.6,"v":2.88},{"t":0.62,"v":2.97},{"t":0.64,"v":2.9},{"t":0.66,"v":3.02},{"t":0.68,"v":2.89},{"t":0.7,"v":2.96},{"t":0.71,"v":2.92},{"t":0.72,"v":2.78},{"t":0.73,"v":2.52},
            {"t":0.74,"v":2.25},{"t":0.75,"v":1.95},{"t":0.76,"v":1.68},{"t":0.77,"v":1.42},{"t":0.78,"v":1.21},{"t":0.79,"v":1.05},{"t":0.8,"v":0.95},{"t":0.82,"v":0.86},{"t":0.84,"v":0.8},{"t":0.86,"v":0.88},
            {"t":0.88,"v":0.78},{"t":0.9,"v":0.86},{"t":0.92,"v":0.8},{"t":0.94,"v":0.9},{"t":0.96,"v":0.79},{"t":0.98,"v":0.86},{"t":1.0,"v":0.78},{"t":1.02,"v":0.88},{"t":1.04,"v":0.8},{"t":1.06,"v":0.86},
            {"t":1.07,"v":0.85},{"t":1.08,"v":1.1},{"t":1.09,"v":1.4},{"t":1.1,"v":1.68},{"t":1.11,"v":1.98},{"t":1.12,"v":2.25},{"t":1.13,"v":2.5},{"t":1.14,"v":2.72},{"t":1.15,"v":2.9},{"t":1.16,"v":3.01},
            {"t":1.18,"v":3.1},{"t":1.2,"v":2.98},{"t":1.22,"v":3.15},{"t":1.24,"v":3.0},{"t":1.26,"v":3.08},{"t":1.28,"v":2.95},{"t":1.3,"v":3.12},{"t":1.32,"v":3.0},{"t":1.34,"v":3.05},{"t":1.36,"v":2.92},
            {"t":1.38,"v":3.15},{"t":1.4,"v":3.0},{"t":1.42,"v":3.02},{"t":1.43,"v":2.9},{"t":1.44,"v":2.72},{"t":1.45,"v":2.42},{"t":1.46,"v":2.14},{"t":1.47,"v":1.85},{"t":1.48,"v":1.56},{"t":1.49,"v":1.32},
            {"t":1.5,"v":1.11},{"t":1.51,"v":0.97},{"t":1.52,"v":0.86},{"t":1.54,"v":0.8},{"t":1.56,"v":0.86},{"t":1.58,"v":0.78},{"t":1.6,"v":0.85},{"t":1.62,"v":0.76},{"t":1.64,"v":0.86},{"t":1.66,"v":0.8},
            {"t":1.68,"v":0.88},{"t":1.7,"v":0.77},{"t":1.72,"v":0.85},{"t":1.74,"v":0.55},{"t":1.75,"v":0.82},{"t":1.76,"v":0.78},{"t":1.78,"v":0.84},{"t":1.79,"v":1.11},{"t":1.8,"v":1.45},{"t":1.81,"v":1.81},
            {"t":1.82,"v":2.13},{"t":1.83,"v":2.45},{"t":1.84,"v":2.72},{"t":1.85,"v":3.2},{"t":1.86,"v":2.9},{"t":1.88,"v":3.0},{"t":1.9,"v":2.88},{"t":1.92,"v":2.97},{"t":1.94,"v":2.86},{"t":1.96,"v":2.98},
            {"t":1.98,"v":2.9},{"t":1.995,"v":2.96}
          ]},
          "mark": {"type": "line", "strokeWidth": 2.2, "clip": true},
          "encoding": {"color": {"datum": "Sensor left", "type": "nominal"}}
        }
      ]
    },
    {
      "width": 528.4, "height": 133.9,
      "data": {"values": [
        {"t":0,"v":10.1},{"t":0.01,"v":9.55},{"t":0.02,"v":9.95},{"t":0.03,"v":10.5},{"t":0.04,"v":9.65},{"t":0.05,"v":10.45},{"t":0.06,"v":9.75},{"t":0.07,"v":10.05},{"t":0.08,"v":9.5},{"t":0.09,"v":10.0},
        {"t":0.1,"v":9.8},{"t":0.11,"v":10.1},{"t":0.12,"v":9.55},{"t":0.13,"v":9.95},{"t":0.14,"v":9.65},{"t":0.15,"v":10.2},{"t":0.16,"v":9.75},{"t":0.168,"v":9.9},{"t":0.178,"v":4.4},
        {"t":0.18,"v":3.7},{"t":0.19,"v":4.25},{"t":0.2,"v":3.55},{"t":0.21,"v":4.1},{"t":0.22,"v":3.8},{"t":0.23,"v":4.3},{"t":0.24,"v":3.65},{"t":0.25,"v":4.05},{"t":0.26,"v":3.85},{"t":0.27,"v":4.2},
        {"t":0.28,"v":3.1},{"t":0.29,"v":4.15},{"t":0.3,"v":3.75},{"t":0.31,"v":4.3},{"t":0.32,"v":3.6},{"t":0.33,"v":4.0},{"t":0.34,"v":3.7},{"t":0.35,"v":4.25},{"t":0.36,"v":3.85},{"t":0.37,"v":4.1},
        {"t":0.38,"v":3.5},{"t":0.39,"v":4.2},{"t":0.4,"v":3.8},{"t":0.41,"v":4.35},{"t":0.42,"v":3.65},{"t":0.43,"v":4.05},{"t":0.44,"v":3.9},{"t":0.45,"v":4.3},{"t":0.46,"v":3.6},{"t":0.47,"v":4.15},
        {"t":0.48,"v":3.75},{"t":0.49,"v":4.8},{"t":0.5,"v":3.7},{"t":0.51,"v":4.25},{"t":0.518,"v":3.9},{"t":0.528,"v":9.7},
        {"t":0.53,"v":10.2},{"t":0.54,"v":9.6},{"t":0.55,"v":10.05},{"t":0.56,"v":10.4},{"t":0.57,"v":9.7},{"t":0.58,"v":10.1},{"t":0.59,"v":9.5},{"t":0.6,"v":9.95},{"t":0.61,"v":9.8},{"t":0.62,"v":10.2},
        {"t":0.63,"v":9.6},{"t":0.64,"v":10.0},{"t":0.65,"v":9.65},{"t":0.66,"v":10.15},{"t":0.67,"v":9.75},{"t":0.68,"v":10.05},{"t":0.69,"v":9.5},{"t":0.7,"v":10.0},{"t":0.71,"v":9.8},{"t":0.72,"v":10.2},
        {"t":0.73,"v":9.6},{"t":0.74,"v":9.95},{"t":0.75,"v":9.7},{"t":0.76,"v":10.15},{"t":0.77,"v":9.75},{"t":0.78,"v":10.05},{"t":0.79,"v":9.55},{"t":0.8,"v":10.0},{"t":0.81,"v":9.8},{"t":0.82,"v":10.15},
        {"t":0.83,"v":9.6},{"t":0.84,"v":9.95},{"t":0.85,"v":9.0},{"t":0.86,"v":10.0},{"t":0.87,"v":9.7},{"t":0.877,"v":9.9},{"t":0.885,"v":4.6},
        {"t":0.89,"v":3.6},{"t":0.9,"v":4.4},{"t":0.91,"v":3.75},{"t":0.92,"v":4.75},{"t":0.93,"v":3.8},{"t":0.94,"v":4.2},{"t":0.95,"v":3.55},{"t":0.96,"v":4.1},{"t":0.97,"v":3.85},{"t":0.98,"v":4.3},
        {"t":0.99,"v":3.65},{"t":1.0,"v":4.05},{"t":1.01,"v":3.9},{"t":1.02,"v":4.25},{"t":1.03,"v":3.6},{"t":1.04,"v":4.1},{"t":1.05,"v":3.75},{"t":1.06,"v":4.3},{"t":1.07,"v":3.4},{"t":1.08,"v":4.15},
        {"t":1.09,"v":3.8},{"t":1.1,"v":4.2},{"t":1.11,"v":3.6},{"t":1.12,"v":4.05},{"t":1.13,"v":3.85},{"t":1.14,"v":4.35},{"t":1.15,"v":3.65},{"t":1.16,"v":4.0},{"t":1.17,"v":3.7},{"t":1.18,"v":4.25},
        {"t":1.19,"v":3.8},{"t":1.2,"v":4.45},{"t":1.21,"v":3.6},{"t":1.22,"v":4.1},{"t":1.23,"v":3.5},{"t":1.236,"v":4.0},{"t":1.242,"v":9.8},
        {"t":1.25,"v":10.2},{"t":1.26,"v":9.6},{"t":1.27,"v":10.0},{"t":1.28,"v":9.7},{"t":1.29,"v":10.15},{"t":1.3,"v":9.55},{"t":1.31,"v":10.0},{"t":1.32,"v":9.8},{"t":1.33,"v":10.2},{"t":1.34,"v":9.6},
        {"t":1.35,"v":10.05},{"t":1.36,"v":9.7},{"t":1.37,"v":10.1},{"t":1.38,"v":9.5},{"t":1.39,"v":10.0},{"t":1.4,"v":9.8},{"t":1.41,"v":10.6},{"t":1.42,"v":9.6},{"t":1.43,"v":10.05},{"t":1.44,"v":9.7},
        {"t":1.45,"v":10.2},{"t":1.46,"v":9.55},{"t":1.47,"v":10.0},{"t":1.48,"v":9.8},{"t":1.49,"v":10.4},{"t":1.5,"v":9.6},{"t":1.51,"v":10.05},{"t":1.52,"v":9.7},{"t":1.53,"v":10.1},{"t":1.54,"v":9.5},
        {"t":1.55,"v":10.0},{"t":1.56,"v":9.8},{"t":1.57,"v":10.2},{"t":1.58,"v":9.6},{"t":1.59,"v":9.9},{"t":1.596,"v":9.7},{"t":1.604,"v":4.5},
        {"t":1.61,"v":3.65},{"t":1.62,"v":4.3},{"t":1.63,"v":3.8},{"t":1.64,"v":4.15},{"t":1.65,"v":3.6},{"t":1.66,"v":4.2},{"t":1.67,"v":3.85},{"t":1.68,"v":4.3},{"t":1.69,"v":3.55},{"t":1.7,"v":4.05},
        {"t":1.71,"v":3.8},{"t":1.72,"v":4.25},{"t":1.73,"v":3.6},{"t":1.74,"v":4.1},{"t":1.75,"v":3.75},{"t":1.76,"v":4.3},{"t":1.77,"v":3.65},{"t":1.78,"v":4.05},{"t":1.79,"v":3.9},{"t":1.8,"v":4.2},
        {"t":1.81,"v":3.5},{"t":1.82,"v":4.1},{"t":1.83,"v":4.8},{"t":1.84,"v":3.1},{"t":1.85,"v":4.0},{"t":1.86,"v":3.7},{"t":1.87,"v":4.25},{"t":1.88,"v":3.6},{"t":1.89,"v":4.1},{"t":1.9,"v":3.8},
        {"t":1.91,"v":4.3},{"t":1.92,"v":3.65},{"t":1.93,"v":4.0},{"t":1.94,"v":3.75},{"t":1.95,"v":4.2},{"t":1.955,"v":4.0},{"t":1.96,"v":10.1}
      ]},
      "mark": {"type": "line", "color": "#1f77b4", "strokeWidth": 2.3, "clip": true},
      "encoding": {
        "x": {"field": "t", "type": "quantitative", "scale": {"domain": [-0.098, 2.058], "nice": false, "zero": false}, "axis": {"values": [0, 0.25, 0.5, 0.75, 1, 1.25, 1.5, 1.75, 2], "format": ".2f", "title": "Time [s]"}},
        "y": {"field": "v", "type": "quantitative", "scale": {"domain": [2.6, 10.98], "nice": false, "zero": false}, "axis": {"values": [5, 7.5, 10], "format": ".1f", "title": "Motor voltage [V]"}}
      }
    },
    {
      "width": 528.4, "height": 133.9,
      "data": {"values": [
        {"t":0,"v":-11.8},{"t":0.005,"v":-11.2},{"t":0.01,"v":-10.4},{"t":0.02,"v":-7.8},{"t":0.03,"v":-5.2},{"t":0.04,"v":-3.0},{"t":0.05,"v":-1.0},{"t":0.06,"v":0.2},{"t":0.07,"v":0.7},{"t":0.08,"v":1.0},
        {"t":0.09,"v":1.3},{"t":0.1,"v":1.6},{"t":0.12,"v":1.3},{"t":0.14,"v":1.7},{"t":0.16,"v":1.4},{"t":0.18,"v":1.6},{"t":0.2,"v":1.25},{"t":0.22,"v":1.75},{"t":0.24,"v":1.4},{"t":0.26,"v":1.6},
        {"t":0.28,"v":1.3},{"t":0.3,"v":1.7},{"t":0.32,"v":1.35},{"t":0.34,"v":1.65},{"t":0.354,"v":1.5},{"t":0.357,"v":18.8},{"t":0.37,"v":19.0},{"t":0.38,"v":18.7},{"t":0.39,"v":18.9},{"t":0.4,"v":18.2},
        {"t":0.41,"v":16.6},{"t":0.42,"v":15.1},{"t":0.43,"v":14.0},{"t":0.44,"v":13.3},{"t":0.45,"v":12.8},{"t":0.46,"v":12.2},{"t":0.47,"v":11.3},{"t":0.48,"v":12.1},{"t":0.5,"v":11.9},{"t":0.52,"v":12.2},
        {"t":0.54,"v":11.8},{"t":0.56,"v":12.1},{"t":0.58,"v":11.9},{"t":0.6,"v":12.2},{"t":0.62,"v":11.8},{"t":0.64,"v":12.1},{"t":0.66,"v":11.9},{"t":0.68,"v":12.2},{"t":0.7,"v":11.8},{"t":0.711,"v":12.0},
        {"t":0.715,"v":-10.8},{"t":0.72,"v":-11.6},{"t":0.73,"v":-9.5},{"t":0.74,"v":-6.1},{"t":0.75,"v":-3.6},{"t":0.76,"v":-1.8},{"t":0.77,"v":-0.6},{"t":0.78,"v":0.2},{"t":0.79,"v":0.8},{"t":0.8,"v":1.2},
        {"t":0.82,"v":1.5},{"t":0.84,"v":1.3},{"t":0.86,"v":1.7},{"t":0.88,"v":1.35},{"t":0.9,"v":1.6},{"t":0.92,"v":1.3},{"t":0.94,"v":1.7},{"t":0.96,"v":1.4},{"t":0.98,"v":1.6},{"t":1.0,"v":1.3},
        {"t":1.02,"v":1.7},{"t":1.04,"v":1.35},{"t":1.066,"v":1.5},{"t":1.069,"v":18.9},{"t":1.08,"v":19.0},{"t":1.09,"v":18.8},{"t":1.1,"v":18.6},{"t":1.11,"v":17.2},{"t":1.12,"v":15.6},{"t":1.13,"v":14.4},
        {"t":1.14,"v":13.4},{"t":1.15,"v":12.8},{"t":1.16,"v":12.3},{"t":1.18,"v":11.9},{"t":1.2,"v":12.0},{"t":1.22,"v":11.7},{"t":1.24,"v":12.0},{"t":1.26,"v":11.6},{"t":1.28,"v":11.9},{"t":1.3,"v":11.6},
        {"t":1.32,"v":12.0},{"t":1.34,"v":11.7},{"t":1.36,"v":11.9},{"t":1.38,"v":11.5},{"t":1.4,"v":12.0},{"t":1.42,"v":11.7},{"t":1.424,"v":11.9},{"t":1.428,"v":-11.2},{"t":1.432,"v":-11.8},{"t":1.44,"v":-9.5},
        {"t":1.45,"v":-6.8},{"t":1.46,"v":-4.3},{"t":1.47,"v":-2.6},{"t":1.48,"v":-1.2},{"t":1.49,"v":-0.2},{"t":1.5,"v":0.5},{"t":1.52,"v":1.1},{"t":1.54,"v":1.4},{"t":1.56,"v":1.6},{"t":1.58,"v":1.3},
        {"t":1.6,"v":1.7},{"t":1.62,"v":1.35},{"t":1.64,"v":1.65},{"t":1.66,"v":1.3},{"t":1.68,"v":1.7},{"t":1.7,"v":1.4},{"t":1.72,"v":1.75},{"t":1.74,"v":1.3},{"t":1.76,"v":1.6},{"t":1.779,"v":1.5},
        {"t":1.782,"v":18.8},{"t":1.79,"v":19.0},{"t":1.8,"v":18.9},{"t":1.81,"v":19.0},{"t":1.815,"v":19.8},{"t":1.82,"v":18.2},{"t":1.83,"v":16.8},{"t":1.84,"v":15.6},{"t":1.85,"v":14.5},{"t":1.86,"v":13.4},
        {"t":1.87,"v":12.7},{"t":1.88,"v":12.2},{"t":1.89,"v":11.8},{"t":1.9,"v":12.1},{"t":1.92,"v":11.8},{"t":1.94,"v":12.2},{"t":1.96,"v":11.7},{"t":1.98,"v":12.1},{"t":1.995,"v":12.0}
      ]},
      "mark": {"type": "line", "color": "#1f77b4", "strokeWidth": 2.2, "clip": true},
      "encoding": {
        "x": {"field": "t", "type": "quantitative", "scale": {"domain": [-0.1, 2.094], "nice": false, "zero": false}, "axis": {"values": [0, 0.25, 0.5, 0.75, 1, 1.25, 1.5, 1.75, 2], "format": ".2f", "title": "Time [s]"}},
        "y": {"field": "v", "type": "quantitative", "scale": {"domain": [-13.4, 21.4], "nice": false, "zero": false}, "axis": {"values": [-10, 0, 10, 20], "format": "d", "title": "Motor voltage [V]"}}
      }
    }
  ],
  "config": {
    "font": "DejaVu Sans",
    "view": {"stroke": "black", "strokeWidth": 1.1},
    "title": {"font": "DejaVu Sans", "fontSize": 16.7, "fontWeight": "normal", "color": "black"},
    "axis": {
      "grid": false, "domain": false, "labelFlush": false, "labelOverlap": false,
      "labelFont": "DejaVu Sans", "labelFontSize": 13.9, "labelColor": "black",
      "tickColor": "black", "tickSize": 4.9, "tickWidth": 1.1, "labelPadding": 4.9,
      "titleFont": "DejaVu Sans", "titleFontSize": 13.9, "titleFontWeight": "normal", "titleColor": "black", "titlePadding": 5.6
    },
    "legend": {
      "labelFont": "DejaVu Sans", "labelFontSize": 13.9, "labelColor": "black",
      "symbolType": "M-1,0L3,0", "symbolSize": 196, "symbolStrokeWidth": 2.08,
      "labelOffset": 25, "rowPadding": 4, "padding": 5.5,
      "strokeColor": "#cccccc", "fillColor": "rgba(255,255,255,0.8)", "cornerRadius": 3
    }
  }
}
